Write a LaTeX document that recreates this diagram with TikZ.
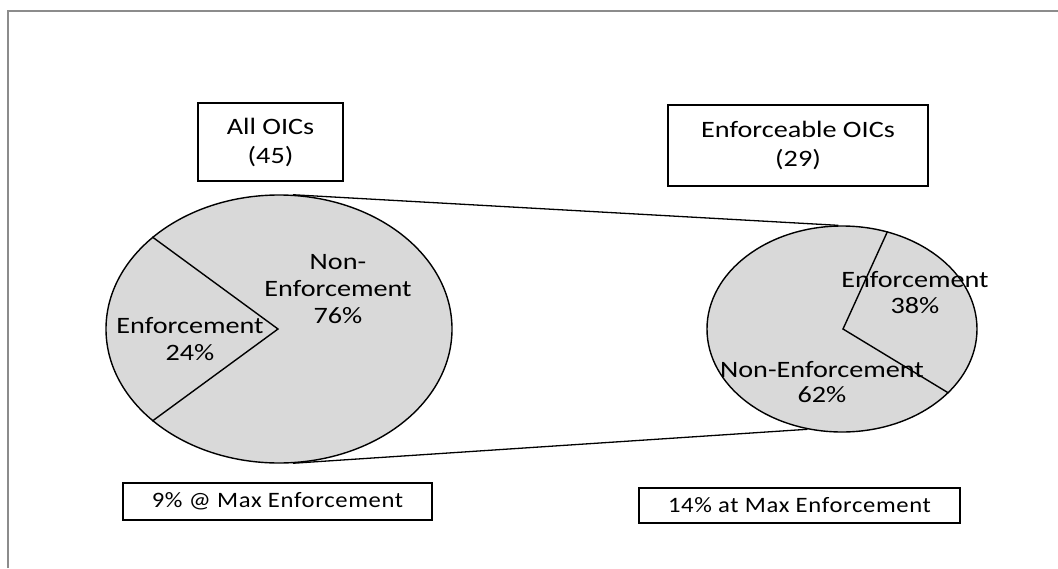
\documentclass[tikz,border=0pt]{standalone}
\usepackage{fontspec}
\setmainfont{Carlito}
\newfontfamily\labelfont[FakeStretch=1.2]{Carlito}
\newfontfamily\notefont[FakeStretch=1.12, LetterSpace=3]{Carlito}
\usetikzlibrary{shapes.geometric}

\definecolor{piefill}{RGB}{217,217,217}
\definecolor{framegray}{RGB}{140,140,140}

\tikzset{
  pie/.style={ellipse, draw=black, fill=piefill, line width=1.4pt, inner sep=0pt},
  wedge/.style={draw=black, line width=1.4pt},
  zoomline/.style={draw=black, line width=1.3pt},
  titlebox/.style={draw=black, line width=1.3pt, fill=white, inner sep=0pt, text=black,
    align=center, font=\labelfont\fontsize{23.5}{29}\selectfont},
  notebox/.style={draw=black, line width=1.3pt, fill=white, inner sep=0pt, text=black,
    font=\notefont\fontsize{22}{24}\selectfont},
  slicelabel/.style={align=center, inner sep=0pt, text=black,
    font=\labelfont\fontsize{23.5}{27}\selectfont},
}

\begin{document}
\begin{tikzpicture}[x=1pt, y=-1pt]
  \useasboundingbox (0,0) rectangle (1058,568);

  % outer frame (top and left edges)
  \draw[framegray, line width=1.6pt] (8,568) -- (8,11) -- (1058,11);

  % the two pies
  \node[pie, minimum width=346pt, minimum height=268pt] (lpie) at (279,329) {};
  \node[pie, minimum width=270pt, minimum height=206pt] (rpie) at (842,329) {};
  \coordinate (lc) at (278,329);
  \coordinate (rc) at (843,329);

  % slice boundaries
  \draw[wedge] (lpie.144.2) -- (lc) -- (lpie.-144.2);
  \draw[wedge] (rpie.65.6) -- (rc) -- (rpie.-31);

  % lines linking the whole to its enforceable part
  \draw[zoomline] (lpie.84.5) -- (rpie.92.2);
  \draw[zoomline] (lpie.-84) -- (rpie.-109.9);

  % slice labels
  \node[slicelabel] (lenf) at (190,339) {Enforcement\\24\%};
  \node[slicelabel] (lnon) at (338,289) {Non-\\Enforcement\\76\%};
  \node[slicelabel, font=\labelfont\fontsize{23.5}{26}\selectfont] (renf) at (915,293) {Enforcement\\38\%};
  \node[slicelabel, font=\labelfont\fontsize{23.5}{25}\selectfont] (rnon) at (822,382) {Non-Enforcement\\62\%};

  % titles
  \node[titlebox, minimum width=145pt, minimum height=78pt] (tall) at (270.5,142) {All OICs\\(45)};
  \node[titlebox, minimum width=260pt, minimum height=81pt] (tenf) at (798,145.5) {Enforceable OICs\\(29)};

  % notes under the pies
  \node[notebox, minimum width=309pt, minimum height=37pt] (nall) at (277.5,501.5) {9\% @ Max Enforcement};
  \node[notebox, minimum width=321pt, minimum height=35pt] (nenf) at (799.5,505.5) {14\% at Max Enforcement};
\end{tikzpicture}
\end{document}
